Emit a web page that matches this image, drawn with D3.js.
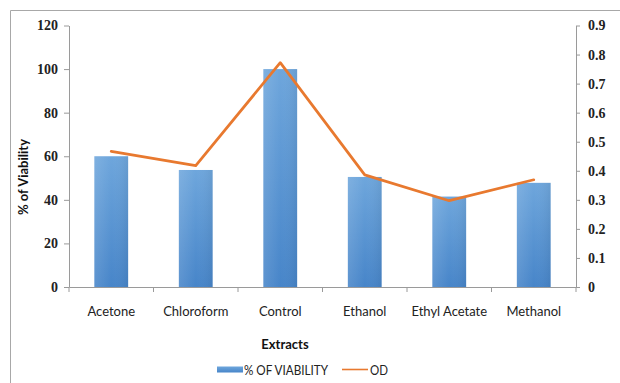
<!DOCTYPE html>
<html>
<head>
<meta charset="utf-8">
<script src="https://cdn.jsdelivr.net/npm/d3@7"></script>
<style>
  html, body { margin: 0; padding: 0; background: #fff; }
  svg { display: block; }
</style>
</head>
<body>
<svg id="chart" width="620" height="383"></svg>
<script>
// Extract names along the x axis
const categories = ["Acetone", "Chloroform", "Control", "Ethanol", "Ethyl Acetate", "Methanol"];
// Percent viability (left axis, bars)
const viability = [60, 53.7, 100, 50.5, 41.5, 47.8];
// Optical density (right axis, line)
const od = [0.467, 0.418, 0.772, 0.386, 0.297, 0.369];
// Axis tick values
const leftTicks = [0, 20, 40, 60, 80, 100, 120];
const rightTicks = [0, 0.1, 0.2, 0.3, 0.4, 0.5, 0.6, 0.7, 0.8, 0.9];

const svg = d3.select("#chart");
const axisColor = "#9a9a9a";
const barColorTop = "#6ea6dc";
const barColorBottom = "#4785c9";
const lineColor = "#E8792F";

// Chart frame
svg.append("path")
  .attr("d", "M10.5,383 V10.5 H620")
  .attr("fill", "none")
  .attr("stroke", "#a8a8a8")
  .attr("stroke-width", 1);

const plot = { left: 69, right: 576, top: 25.5, bottom: 287 };

const x = d3.scaleBand().domain(categories).range([plot.left, plot.right]).padding(0);
const yL = d3.scaleLinear().domain([0, 120]).range([plot.bottom, plot.top]);
const yR = d3.scaleLinear().domain([0, 0.9]).range([plot.bottom, plot.top]);

// Bar gradient
const defs = svg.append("defs");
const grad = defs.append("linearGradient").attr("id", "barGrad")
  .attr("x1", 0).attr("y1", 0).attr("x2", 0).attr("y2", 1);
grad.append("stop").attr("offset", "0%").attr("stop-color", barColorTop);
grad.append("stop").attr("offset", "100%").attr("stop-color", barColorBottom);

const hgrad = defs.append("linearGradient").attr("id", "barEdge")
  .attr("x1", 0).attr("y1", 0).attr("x2", 1).attr("y2", 0);
hgrad.append("stop").attr("offset", "0%").attr("stop-color", "#ffffff").attr("stop-opacity", 0.12);
hgrad.append("stop").attr("offset", "50%").attr("stop-color", "#ffffff").attr("stop-opacity", 0);
hgrad.append("stop").attr("offset", "100%").attr("stop-color", "#000000").attr("stop-opacity", 0.06);

// Left axis
const leftAxis = svg.append("g")
  .attr("transform", `translate(${plot.left},0)`)
  .call(d3.axisLeft(yL).tickValues(leftTicks).tickSize(5).tickSizeOuter(0).tickPadding(6));
leftAxis.selectAll("text")
  .attr("font-family", "'Liberation Serif', 'DejaVu Serif', serif")
  .attr("font-weight", "bold")
  .attr("font-size", 14)
  .attr("fill", "#222");

// Right axis
const rightAxis = svg.append("g")
  .attr("transform", `translate(${plot.right},0)`)
  .call(d3.axisRight(yR).tickValues(rightTicks).tickSize(4).tickSizeOuter(0).tickPadding(8)
    .tickFormat(d => d === 0 ? "0" : d3.format(".1f")(d)));
rightAxis.selectAll("text")
  .attr("font-family", "'Liberation Serif', 'DejaVu Serif', serif")
  .attr("font-weight", "bold")
  .attr("font-size", 14)
  .attr("fill", "#222");

// Bottom axis: labels at band centres, ticks at band boundaries
const bottomAxis = svg.append("g")
  .attr("transform", `translate(0,${plot.bottom})`)
  .call(d3.axisBottom(x).tickSize(0).tickPadding(19.5));
bottomAxis.selectAll("text")
  .attr("font-family", "Lato, 'Open Sans', sans-serif")
  .attr("font-size", 13)
  .attr("fill", "#222");
const boundaries = categories.map(c => x(c)).concat([x(categories[categories.length - 1]) + x.bandwidth()]);
bottomAxis.selectAll("line.bound")
  .data(boundaries)
  .join("line")
  .attr("class", "bound")
  .attr("x1", d => d).attr("x2", d => d)
  .attr("y1", 0).attr("y2", 5)
  .attr("stroke", axisColor);

svg.selectAll(".domain, .tick line").attr("stroke", axisColor);

// Bars
const barW = x.bandwidth() * 0.4;
const bars = svg.append("g");
bars.selectAll("rect.bar")
  .data(categories)
  .join("rect")
  .attr("class", "bar")
  .attr("x", (c) => x(c) + (x.bandwidth() - barW) / 2)
  .attr("y", (c, i) => yL(viability[i]))
  .attr("width", barW)
  .attr("height", (c, i) => yL(0) - yL(viability[i]))
  .attr("fill", "url(#barGrad)");
bars.selectAll("rect.edge")
  .data(categories)
  .join("rect")
  .attr("class", "edge")
  .attr("x", (c) => x(c) + (x.bandwidth() - barW) / 2)
  .attr("y", (c, i) => yL(viability[i]))
  .attr("width", barW)
  .attr("height", (c, i) => yL(0) - yL(viability[i]))
  .attr("fill", "url(#barEdge)");

// OD line
const line = d3.line()
  .x((d, i) => x(categories[i]) + x.bandwidth() / 2)
  .y(d => yR(d));
svg.append("path")
  .datum(od)
  .attr("d", line)
  .attr("fill", "none")
  .attr("stroke", lineColor)
  .attr("stroke-width", 2.75)
  .attr("stroke-linejoin", "round")
  .attr("stroke-linecap", "round");

// Axis titles
svg.append("text")
  .attr("transform", "translate(23,177) rotate(-90)")
  .attr("text-anchor", "middle")
  .attr("dominant-baseline", "central")
  .attr("font-family", "Lato, 'Open Sans', sans-serif")
  .attr("font-weight", "bold")
  .attr("font-size", 13)
  .attr("fill", "#111")
  .text("% of Viability");

svg.append("text")
  .attr("x", 285)
  .attr("y", 348.5)
  .attr("text-anchor", "middle")
  .attr("font-family", "Lato, 'Open Sans', sans-serif")
  .attr("font-weight", "bold")
  .attr("font-size", 13)
  .attr("fill", "#111")
  .text("Extracts");

// Legend (condensed text)
const legend = svg.append("g").attr("font-family", "Lato, 'Open Sans', sans-serif").attr("font-size", 14).attr("fill", "#222");
legend.append("rect")
  .attr("x", 217).attr("y", 366.5).attr("width", 26).attr("height", 6)
  .attr("fill", "url(#barGrad)");
legend.append("text").attr("x", 244).attr("y", 374.5)
  .attr("textLength", 84).attr("lengthAdjust", "spacingAndGlyphs")
  .text("% OF VIABILITY");
legend.append("line")
  .attr("x1", 342).attr("x2", 368).attr("y1", 369.5).attr("y2", 369.5)
  .attr("stroke", lineColor).attr("stroke-width", 1.6);
legend.append("text").attr("x", 370).attr("y", 374.5)
  .attr("textLength", 18).attr("lengthAdjust", "spacingAndGlyphs")
  .text("OD");
</script>
</body>
</html>
